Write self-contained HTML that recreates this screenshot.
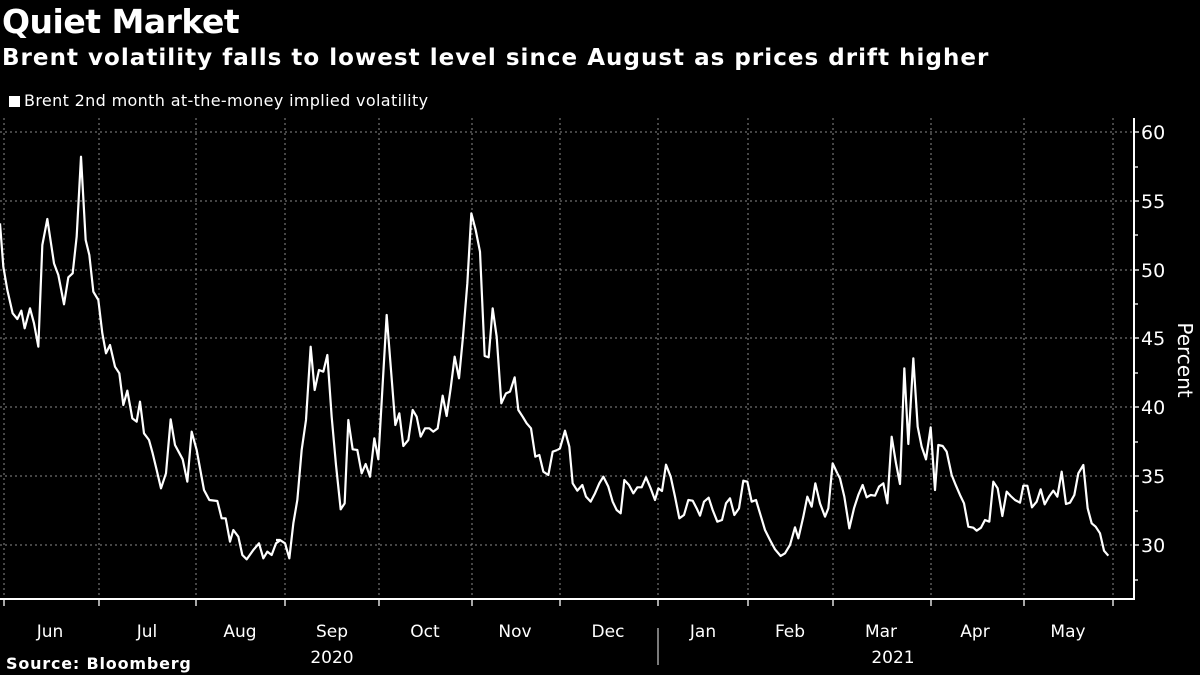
<!DOCTYPE html>
<html><head><meta charset="utf-8"><style>
html,body{margin:0;padding:0;background:#000;}
body{width:1200px;height:675px;overflow:hidden;position:relative;font-family:"DejaVu Sans","Liberation Sans",sans-serif;color:#fff;}
.t{position:absolute;white-space:nowrap;}
</style></head><body>
<div class="t" style="left:2px;top:2px;font-size:33px;font-weight:bold;letter-spacing:-0.5px;">Quiet Market</div>
<div class="t" style="left:2px;top:45px;font-size:23px;font-weight:bold;letter-spacing:1.03px;">Brent volatility falls to lowest level since August as prices drift higher</div>
<div class="t" style="left:9px;top:91px;font-size:16px;letter-spacing:0.35px;"><span style="display:inline-block;width:11px;height:11px;background:#fff;margin-right:4px;vertical-align:-1px"></span>Brent 2nd month at-the-money implied volatility</div>
<svg width="1200" height="675" style="position:absolute;left:0;top:0" xmlns="http://www.w3.org/2000/svg">
<g stroke="#8a8a8a" stroke-width="1" stroke-dasharray="2,3">
<line x1="0" x2="1133" y1="132" y2="132"/><line x1="0" x2="1133" y1="201" y2="201"/><line x1="0" x2="1133" y1="270" y2="270"/><line x1="0" x2="1133" y1="338" y2="338"/><line x1="0" x2="1133" y1="407" y2="407"/><line x1="0" x2="1133" y1="476" y2="476"/><line x1="0" x2="1133" y1="545" y2="545"/>
<line x1="4" x2="4" y1="118" y2="599"/><line x1="99" x2="99" y1="118" y2="599"/><line x1="196" x2="196" y1="118" y2="599"/><line x1="285" x2="285" y1="118" y2="599"/><line x1="379" x2="379" y1="118" y2="599"/><line x1="472" x2="472" y1="118" y2="599"/><line x1="560" x2="560" y1="118" y2="599"/><line x1="658" x2="658" y1="118" y2="599"/><line x1="748" x2="748" y1="118" y2="599"/><line x1="833" x2="833" y1="118" y2="599"/><line x1="931" x2="931" y1="118" y2="599"/><line x1="1024" x2="1024" y1="118" y2="599"/><line x1="1113" x2="1113" y1="118" y2="599"/>
</g>
<g stroke="#fff" stroke-width="2" fill="none">
<polyline points="0,599 1134,599 1134,118"/>
</g>
<g stroke="#fff" stroke-width="1.3">
<line x1="4" x2="4" y1="599" y2="606"/><line x1="99" x2="99" y1="599" y2="606"/><line x1="196" x2="196" y1="599" y2="606"/><line x1="285" x2="285" y1="599" y2="606"/><line x1="379" x2="379" y1="599" y2="606"/><line x1="472" x2="472" y1="599" y2="606"/><line x1="560" x2="560" y1="599" y2="606"/><line x1="658" x2="658" y1="599" y2="606"/><line x1="748" x2="748" y1="599" y2="606"/><line x1="833" x2="833" y1="599" y2="606"/><line x1="931" x2="931" y1="599" y2="606"/><line x1="1024" x2="1024" y1="599" y2="606"/><line x1="1113" x2="1113" y1="599" y2="606"/>
<line x1="658" x2="658" y1="628" y2="665" stroke="#bbb"/>
<line x1="1134" x2="1139" y1="132" y2="132"/><line x1="1134" x2="1139" y1="201" y2="201"/><line x1="1134" x2="1139" y1="270" y2="270"/><line x1="1134" x2="1139" y1="338" y2="338"/><line x1="1134" x2="1139" y1="407" y2="407"/><line x1="1134" x2="1139" y1="476" y2="476"/><line x1="1134" x2="1139" y1="545" y2="545"/>
<line x1="1134" x2="1138" y1="167" y2="167"/><line x1="1134" x2="1138" y1="235" y2="235"/><line x1="1134" x2="1138" y1="304" y2="304"/><line x1="1134" x2="1138" y1="373" y2="373"/><line x1="1134" x2="1138" y1="442" y2="442"/><line x1="1134" x2="1138" y1="511" y2="511"/><line x1="1134" x2="1138" y1="580" y2="580"/>
</g>
<g fill="#fff" font-family="DejaVu Sans, Liberation Sans, sans-serif" font-size="19">
<text x="1141" y="139">60</text><text x="1141" y="208">55</text><text x="1141" y="277">50</text><text x="1141" y="345">45</text><text x="1141" y="414">40</text><text x="1141" y="483">35</text><text x="1141" y="552">30</text>
<text transform="translate(1178,360) rotate(90)" text-anchor="middle" font-size="20">Percent</text>
</g>
<g fill="#fff" font-family="DejaVu Sans, Liberation Sans, sans-serif" font-size="17" text-anchor="middle">
<text x="50" y="637">Jun</text><text x="147" y="637">Jul</text><text x="240" y="637">Aug</text><text x="332" y="637">Sep</text><text x="425" y="637">Oct</text><text x="515" y="637">Nov</text><text x="608" y="637">Dec</text><text x="703" y="637">Jan</text><text x="790" y="637">Feb</text><text x="881" y="637">Mar</text><text x="975" y="637">Apr</text><text x="1068" y="637">May</text>
<text x="332" y="663">2020</text><text x="893" y="663">2021</text>
</g>
<text x="6" y="669" fill="#fff" font-family="DejaVu Sans, Liberation Sans, sans-serif" font-size="16" font-weight="bold" letter-spacing="0.8">Source: Bloomberg</text>
<g fill="none" stroke="#fff" stroke-width="2.2" stroke-linejoin="round">
<g transform="translate(0,140) scale(0.33333)"><polyline vector-effect="non-scaling-stroke" points="0,250 10,380 22,450 38,520 52,537 64,512 74,565 90,505 102,550 115,620 127,315 142,237 162,370 175,405 192,493 205,412 218,400 230,290 243,50 257,300 268,345 280,455 295,480 307,580 318,640 330,615 345,680 358,700 370,795 382,752 397,835 410,845 420,785 432,880 447,900 458,940 470,990 483,1045 498,1000 512,838 525,915 548,958 562,1025 575,875 590,930 612,1050 628,1080 652,1083 665,1135 677,1135 690,1205 700,1170 715,1190 727,1245 740,1258 760,1230 777,1210 790,1255 802,1235 815,1245 828,1210 842,1200"/></g>
<g transform="translate(280,190) scale(0.33333)"><polyline vector-effect="non-scaling-stroke" points="-12,1050 0,1050 15,1060 28,1105 40,1000 52,930 65,780 78,690 92,470 104,600 117,540 130,545 142,495 155,680 168,825 182,958 194,940 205,690 218,778 232,780 245,850 257,822 270,860 283,745 295,808 320,375 333,540 346,705 358,670 370,768 385,750 398,660 410,680 422,740 435,715 448,715 460,725 473,715 488,617 500,678 512,595 524,500 537,565 549,440 562,280 574,70 587,120 600,185 614,498 626,502 638,355 650,440 664,640 678,610 690,605 704,562 715,660 728,680 740,700 753,715 766,800 778,795 790,845 805,855 818,785 832,780"/></g>
<g transform="translate(560,340) scale(0.33333)"><polyline vector-effect="non-scaling-stroke" points="-8,330 0,325 15,272 28,320 38,430 52,452 67,435 78,470 92,485 105,460 118,430 130,410 145,440 158,485 170,510 182,520 193,420 207,435 220,460 232,442 245,442 258,412 272,445 285,480 295,445 306,453 318,374 332,410 345,470 358,535 372,525 385,480 398,482 410,505 420,527 432,485 446,473 458,510 472,545 486,540 498,490 510,475 523,525 537,505 550,422 562,425 575,485 588,480 600,520 615,570 630,600 645,628 662,648 675,640 690,615 705,562 715,595 730,530 742,470 755,500 766,430 780,490 795,530 805,505 818,370 832,400"/></g>
<g transform="translate(840,340) scale(0.33333)"><polyline vector-effect="non-scaling-stroke" points="-8,400 0,415 13,470 28,565 42,505 55,465 68,435 80,472 92,465 105,467 117,440 130,430 142,490 155,290 168,370 180,432 193,85 205,312 220,55 233,260 245,320 258,358 272,262 285,450 295,315 308,318 320,335 335,405 347,435 360,465 372,490 385,560 400,563 410,572 423,563 435,540 448,545 460,425 473,445 487,528 500,455 512,468 525,480 540,488 550,437 562,437 576,502 590,485 602,448 614,493 627,470 640,452 652,470 665,395 678,492 690,488 703,465 715,400 730,375 743,505 755,550 767,560 780,580 792,632 805,647"/></g>
</g>
</svg>
</body></html>
